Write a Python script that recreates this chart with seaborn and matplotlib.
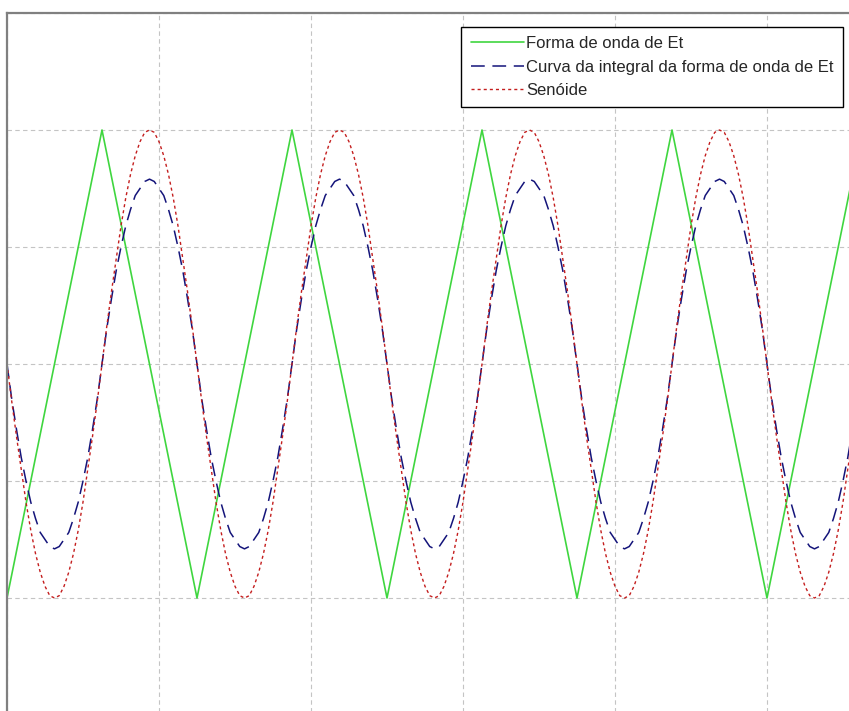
import matplotlib
matplotlib.use("Agg")
import matplotlib.pyplot as plt
import seaborn as sns

# tempo em amostras (40 amostras por periodo)
t = list(range(0, 181))

# forma de onda triangular: vertices
tri_t = [0, 20, 40, 60, 80, 100, 120, 140, 160, 180]
tri_y = [-1, 1, -1, 1, -1, 1, -1, 1, -1, 1]

# curva da integral da forma de onda (meio periodo por linha)
integ_y = [0, -0.15, -0.28, -0.40, -0.50, -0.59, -0.66, -0.72, -0.75, -0.78, -0.79, -0.78, -0.75, -0.72, -0.66, -0.59, -0.50, -0.40, -0.28, -0.15,
           0, 0.15, 0.28, 0.40, 0.50, 0.59, 0.66, 0.72, 0.75, 0.78, 0.79, 0.78, 0.75, 0.72, 0.66, 0.59, 0.50, 0.40, 0.28, 0.15,
           0, -0.15, -0.28, -0.40, -0.50, -0.59, -0.66, -0.72, -0.75, -0.78, -0.79, -0.78, -0.75, -0.72, -0.66, -0.59, -0.50, -0.40, -0.28, -0.15,
           0, 0.15, 0.28, 0.40, 0.50, 0.59, 0.66, 0.72, 0.75, 0.78, 0.79, 0.78, 0.75, 0.72, 0.66, 0.59, 0.50, 0.40, 0.28, 0.15,
           0, -0.15, -0.28, -0.40, -0.50, -0.59, -0.66, -0.72, -0.75, -0.78, -0.79, -0.78, -0.75, -0.72, -0.66, -0.59, -0.50, -0.40, -0.28, -0.15,
           0, 0.15, 0.28, 0.40, 0.50, 0.59, 0.66, 0.72, 0.75, 0.78, 0.79, 0.78, 0.75, 0.72, 0.66, 0.59, 0.50, 0.40, 0.28, 0.15,
           0, -0.15, -0.28, -0.40, -0.50, -0.59, -0.66, -0.72, -0.75, -0.78, -0.79, -0.78, -0.75, -0.72, -0.66, -0.59, -0.50, -0.40, -0.28, -0.15,
           0, 0.15, 0.28, 0.40, 0.50, 0.59, 0.66, 0.72, 0.75, 0.78, 0.79, 0.78, 0.75, 0.72, 0.66, 0.59, 0.50, 0.40, 0.28, 0.15,
           0, -0.15, -0.28, -0.40, -0.50, -0.59, -0.66, -0.72, -0.75, -0.78, -0.79, -0.78, -0.75, -0.72, -0.66, -0.59, -0.50, -0.40, -0.28, -0.15,
           0]

# senoide (meio periodo por linha)
sen_y = [0, -0.16, -0.31, -0.45, -0.59, -0.71, -0.81, -0.89, -0.95, -0.99, -1.0, -0.99, -0.95, -0.89, -0.81, -0.71, -0.59, -0.45, -0.31, -0.16,
         0, 0.16, 0.31, 0.45, 0.59, 0.71, 0.81, 0.89, 0.95, 0.99, 1.0, 0.99, 0.95, 0.89, 0.81, 0.71, 0.59, 0.45, 0.31, 0.16,
         0, -0.16, -0.31, -0.45, -0.59, -0.71, -0.81, -0.89, -0.95, -0.99, -1.0, -0.99, -0.95, -0.89, -0.81, -0.71, -0.59, -0.45, -0.31, -0.16,
         0, 0.16, 0.31, 0.45, 0.59, 0.71, 0.81, 0.89, 0.95, 0.99, 1.0, 0.99, 0.95, 0.89, 0.81, 0.71, 0.59, 0.45, 0.31, 0.16,
         0, -0.16, -0.31, -0.45, -0.59, -0.71, -0.81, -0.89, -0.95, -0.99, -1.0, -0.99, -0.95, -0.89, -0.81, -0.71, -0.59, -0.45, -0.31, -0.16,
         0, 0.16, 0.31, 0.45, 0.59, 0.71, 0.81, 0.89, 0.95, 0.99, 1.0, 0.99, 0.95, 0.89, 0.81, 0.71, 0.59, 0.45, 0.31, 0.16,
         0, -0.16, -0.31, -0.45, -0.59, -0.71, -0.81, -0.89, -0.95, -0.99, -1.0, -0.99, -0.95, -0.89, -0.81, -0.71, -0.59, -0.45, -0.31, -0.16,
         0, 0.16, 0.31, 0.45, 0.59, 0.71, 0.81, 0.89, 0.95, 0.99, 1.0, 0.99, 0.95, 0.89, 0.81, 0.71, 0.59, 0.45, 0.31, 0.16,
         0, -0.16, -0.31, -0.45, -0.59, -0.71, -0.81, -0.89, -0.95, -0.99, -1.0, -0.99, -0.95, -0.89, -0.81, -0.71, -0.59, -0.45, -0.31, -0.16,
         0]

labels = ["Forma de onda de Et", "Curva da integral da forma de onda de Et", "Senóide"]

sns.set_style("white")
plt.rcParams['font.family'] = ['Liberation Sans', 'DejaVu Sans']

fig = plt.figure(figsize=(8.49, 7.11), dpi=100)
# recorte: o eixo passa das bordas direita e inferior
ax = fig.add_axes([7/849, 1 - 715/711, 912/849, 702/711])

sns.lineplot(x=tri_t, y=tri_y, ax=ax, color='#3fd63f', lw=1.2, label=labels[0], sort=False)
sns.lineplot(x=t, y=integ_y, ax=ax, color='#14147a', lw=1.1, linestyle=(0, (9, 5)),
             label=labels[1], sort=False)
sns.lineplot(x=t, y=sen_y, ax=ax, color='#c41e1e', lw=1.0, linestyle=(0, (2.2, 2.2)),
             label=labels[2], sort=False)

ax.set_xlim(0, 192)
ax.set_ylim(-1.5, 1.5)
ax.set_xticks(range(0, 193, 32))
ax.set_yticks([-1.5, -1, -0.5, 0, 0.5, 1, 1.5])
ax.grid(True, color='#c4c4c4', linestyle=(0, (4, 3)), lw=0.8)
ax.tick_params(labelleft=False, labelbottom=False, length=0)
ax.set_xlabel("")
ax.set_ylabel("")
for s in ['left', 'top']:
    ax.spines[s].set_color('#808080')
    ax.spines[s].set_linewidth(1.6)
ax.spines['right'].set_visible(False)
ax.spines['bottom'].set_visible(False)

leg = ax.legend(loc='upper right', bbox_to_anchor=(0.9167, 0.980), borderaxespad=0,
                fontsize=12, frameon=True, fancybox=False, framealpha=1,
                edgecolor='black', handlelength=3.2, handletextpad=0.15,
                labelspacing=0.5, borderpad=0.55)
leg.get_frame().set_linewidth(1.0)

fig.savefig("out.png", dpi=100)
